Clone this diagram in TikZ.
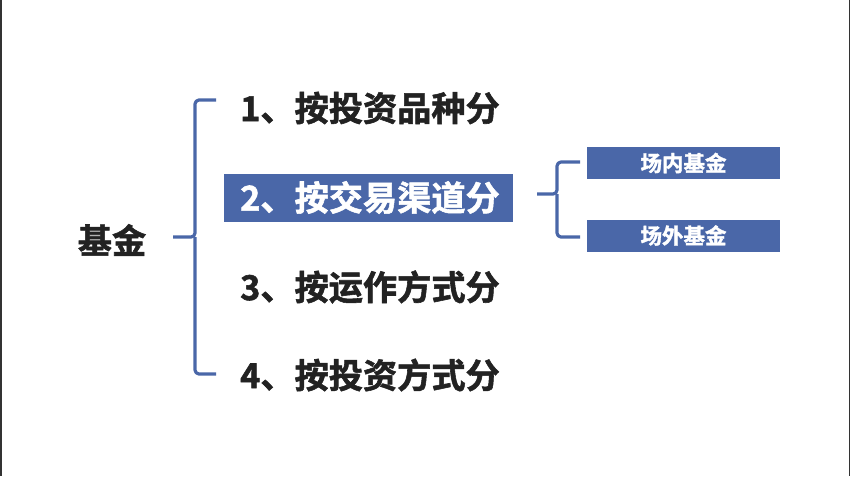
\documentclass[tikz,border=0pt]{standalone}
\usepackage{fontspec}
\newfontfamily\cjk[FakeBold=1.6]{Noto Sans CJK SC Bold}
\definecolor{boxblue}{HTML}{4A67A8}
\definecolor{txtdark}{HTML}{222222}
\begin{document}
\begin{tikzpicture}[x=1pt,y=-1pt,
  bigtxt/.style={font=\cjk\fontsize{34.2}{36}\selectfont, text=txtdark, inner sep=0pt},
  itemtxt/.style={bigtxt, anchor=west},
  smallbox/.style={fill=boxblue, text=white, minimum width=193pt, minimum height=32pt, inner sep=0pt, font=\cjk\fontsize{21.5}{22}\selectfont},
  bracel/.style={draw=boxblue, line width=3.2pt, line join=round, rounded corners=4pt}
]
\useasboundingbox (0,0) rectangle (850,476);
\fill[white] (0,0) rectangle (850,476);
\draw[line width=1.5pt, black!80] (0.75,0) -- (0.75,476);
\draw[line width=1.5pt, black!80] (849.25,0) -- (849.25,476);

\node[bigtxt] (root) at (112,240) {基金};

\node[itemtxt] (i1) at (240,108) {1、按投资品种分};
\node[fill=boxblue, minimum width=289pt, minimum height=48pt, anchor=west] (b2) at (224,197.5) {};
\node[itemtxt, text=white] (i2) at (240,197.5) {2、按交易渠道分};
\node[itemtxt] (i3) at (240,287) {3、按运作方式分};
\node[itemtxt] (i4) at (240,375) {4、按投资方式分};

\coordinate (bt) at (216,100);
\coordinate (bb) at (216,374);
\coordinate (bm) at (173,237);
\draw[bracel] (bt) -- (195,100) -- (195,237) -- (bm);
\draw[bracel] (bb) -- (195,374) -- (195,237);

\node[smallbox] (s1) at (683.5,163) {场内基金};
\node[smallbox] (s2) at (683.5,235.5) {场外基金};

\coordinate (ct) at (580,162);
\coordinate (cb) at (580,237);
\coordinate (cm) at (537,194);
\draw[bracel] (ct) -- (557,162) -- (557,194) -- (cm);
\draw[bracel] (cb) -- (557,237) -- (557,194);
\end{tikzpicture}
\end{document}
